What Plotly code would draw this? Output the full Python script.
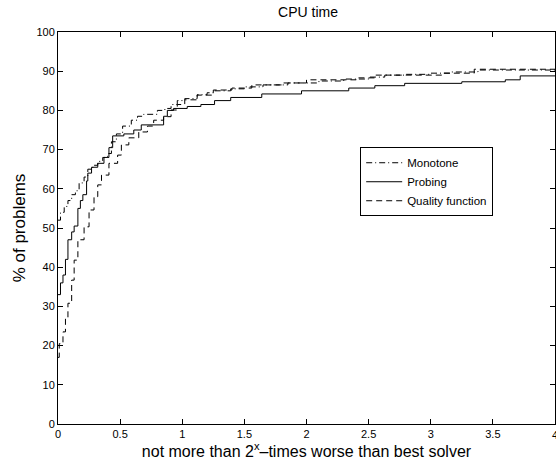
import plotly.graph_objects as go

# Performance profile: fraction of problems solved within 2^x of the best solver
mono_x = [0, 0.02, 0.05, 0.08, 0.11, 0.14, 0.17, 0.21, 0.24, 0.28, 0.32, 0.36, 0.40, 0.43,
          0.47, 0.52, 0.59, 0.64, 0.69, 0.80, 0.86, 0.91, 0.96, 1.02, 1.12, 1.20, 1.26,
          1.39, 1.5, 1.65, 1.85, 2.1, 2.3, 2.5, 2.63, 2.8, 3.0, 3.17, 3.38, 4.0]
mono_y = [52, 54, 55.5, 57, 58.5, 59.5, 61.5, 63, 65, 66, 67, 68, 69, 72,
          74, 76, 77.5, 78.5, 79, 80, 80.5, 81.5, 82.5, 83, 84, 84.5, 85,
          85.5, 86, 86.5, 87, 87.5, 88, 88.5, 89, 89.2, 89.5, 89.8, 90.3, 90.3]

prob_x = [0, 0.02, 0.04, 0.06, 0.08, 0.11, 0.13, 0.16, 0.18, 0.20, 0.23, 0.24, 0.27, 0.32,
          0.37, 0.41, 0.44, 0.53, 0.61, 0.67, 0.85, 0.88, 0.93, 1.04, 1.15, 1.26, 1.39,
          1.64, 1.96, 2.34, 2.55, 2.79, 3.25, 3.6, 3.72, 4.0]
prob_y = [33, 36, 38, 42, 47, 49, 50.5, 55, 57, 58.5, 62, 64, 65.5, 66.5,
          68, 70.5, 73.5, 74, 75, 76.3, 78.5, 80, 80.5, 81, 81.5, 82.5, 83.3,
          84.2, 85, 85.7, 86.3, 86.9, 87.3, 87.8, 88.8, 88.8]

qual_x = [0, 0.01, 0.04, 0.06, 0.08, 0.11, 0.13, 0.16, 0.21, 0.25, 0.29, 0.32, 0.35, 0.41,
          0.48, 0.51, 0.57, 0.65, 0.72, 0.77, 0.85, 0.91, 0.96, 1.02, 1.12, 1.25, 1.4,
          1.56, 1.8, 2.0, 2.4, 2.55, 3.1, 3.35, 4.0]
qual_y = [17, 20.5, 23.5, 27, 30.8, 36.7, 41.8, 47, 50.3, 54.6, 58, 61, 63.5, 66.5,
          68.6, 71.2, 73, 74.5, 76, 77.5, 78.4, 80.1, 81.5, 82.7, 83.9, 85.2, 85.7,
          86.5, 87, 87.8, 88.3, 89, 89.5, 90.5, 90.5]

x_ticks = [0, 0.5, 1, 1.5, 2, 2.5, 3, 3.5]
x_last_tick = 4
y_ticks = list(range(0, 101, 10))

FONT = "Liberation Sans, Arial, Helvetica, sans-serif"

fig = go.Figure()
series = [
    ("Monotone", mono_x, mono_y, "6px,3px,1px,3px"),
    ("Probing", prob_x, prob_y, "solid"),
    ("Quality function", qual_x, qual_y, "6px,4px"),
]
for name, xs, ys, dash in series:
    fig.add_trace(go.Scatter(
        x=xs, y=ys, name=name, mode="lines", line_shape="hv",
        line=dict(color="black", width=1, dash=dash),
    ))

axis_common = dict(
    showgrid=False, zeroline=False, showline=True, linecolor="black", linewidth=1,
    mirror="ticks", ticks="inside", ticklen=5, tickcolor="black", tickwidth=1,
    tickfont=dict(family=FONT, size=11, color="black"),
)

fig.update_layout(
    width=556, height=470,
    margin=dict(l=58, r=1, t=32, b=46),
    paper_bgcolor="white", plot_bgcolor="white",
    font=dict(family=FONT, color="black"),
    title=dict(text="CPU time", x=0.554, xanchor="center", y=0.974, yanchor="middle",
               font=dict(family=FONT, size=14, color="black")),
    xaxis=dict(range=[0, 4], tickvals=x_ticks + [x_last_tick],
               ticktext=[f"{v:g}" for v in x_ticks] + [""],
               title=dict(text="not more than 2<sup>x</sup>\u2013times worse than best solver",
                          font=dict(family=FONT, size=16), standoff=1),
               **axis_common),
    yaxis=dict(range=[0, 100], tickvals=y_ticks,
               title=dict(text="% of problems", font=dict(family=FONT, size=17), standoff=6),
               **axis_common),
    legend=dict(x=0.608, y=0.706, xanchor="left", yanchor="top",
                bordercolor="black", borderwidth=1, bgcolor="white",
                font=dict(family=FONT, size=11.5, color="black"),
                tracegroupgap=0, itemwidth=36),
    showlegend=True,
)

# the last tick label sits on the right border, half outside the page
fig.add_annotation(x=x_last_tick, y=0, xref="x", yref="y", text=f"{x_last_tick:g}",
                   showarrow=False, yanchor="top", xanchor="center", yshift=-3,
                   font=dict(family=FONT, size=11, color="black"))

fig.write_html("out.html")
